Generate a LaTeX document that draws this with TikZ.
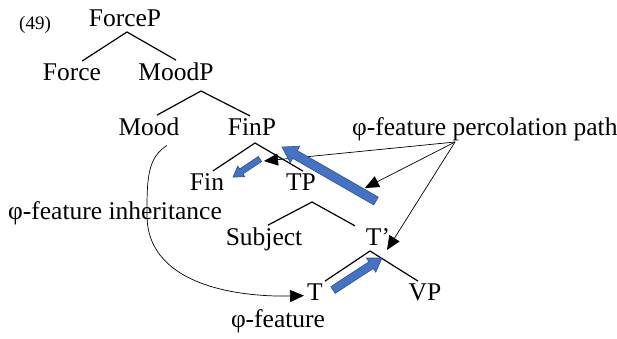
\documentclass[tikz,border=0pt]{standalone}
\usepackage{fontspec}
\setmainfont{Liberation Serif}
\usetikzlibrary{arrows.meta, calc}
\definecolor{featblue}{HTML}{4472C4}
\definecolor{featedge}{HTML}{2F528F}

% block arrow: tail, tip, half body width, half head width, head length
\newcommand{\featarrow}[5]{%
  \coordinate (fa-h) at ($(#2)!#5!(#1)$);
  \filldraw[fill=featblue, draw=featedge, line width=0.6pt]
    ($(#1)!#3!90:(#2)$) -- ($(fa-h)!#3!90:(#2)$) -- ($(fa-h)!#4!90:(#2)$) -- (#2)
    -- ($(fa-h)!#4!-90:(#2)$) -- ($(fa-h)!#3!-90:(#2)$) -- ($(#1)!#3!-90:(#2)$) -- cycle;
}

\begin{document}
\begin{tikzpicture}[x=1pt, y=-1pt,
        lbl/.style={anchor=base, inner sep=3pt, font=\fontsize{25.5}{30}\selectfont},
        branch/.style={line width=1.2pt},
        pointer/.style={line width=0.7pt, -{Triangle[length=14pt, width=12pt]}}]
      \useasboundingbox (0,0) rectangle (617,338);

      % tree
      \node[lbl, anchor=base west, font=\fontsize{19}{22}\selectfont] (exnum) at (16,29) {(49)};
      \node[lbl] (forcep) at (125,26) {ForceP};
      \node[lbl] (force) at (72,80) {Force};
      \node[lbl] (moodp) at (176,80) {MoodP};
      \node[lbl] (mood) at (149,135) {Mood};
      \node[lbl] (finp) at (252,135) {FinP};
      \node[lbl] (fin) at (207,190) {Fin};
      \node[lbl] (tp) at (301,190) {TP};
      \node[lbl] (subj) at (264,245) {Subject};
      \node[lbl] (tbar) at (378,245) {T’};
      \node[lbl] (t) at (315,300) {T};
      \node[lbl] (vp) at (425,300) {VP};

      \coordinate (forcep-a) at (127,32);
      \coordinate (moodp-a) at (201,91);
      \coordinate (finp-a) at (255,143);
      \coordinate (tp-a) at (312,202);
      \coordinate (tbar-a) at (370,251);

      \draw[branch] ($(force.north)+(10,1)$) -- (forcep-a) -- ($(moodp.north)+(0,1)$);
      \draw[branch] ($(mood.north)+(8,1)$) -- (moodp-a) -- ($(finp.north)+(-2,1)$);
      \draw[branch] ($(fin.north)+(6,1)$) -- (finp-a) -- ($(tp.north)+(2,1)$);
      \draw[branch] ($(subj.north)+(4,1)$) -- (tp-a) -- ($(tbar.north)+(-23,1)$);
      \draw[branch] ($(t.north)+(10,1)$) -- (tbar-a) -- ($(vp.north)+(-7,1)$);

      % labels
      \node[lbl, anchor=base west] (perc) at (349,135) {φ-feature percolation path};
      \node[lbl, anchor=base west] (inher) at (5,219) {φ-feature inheritance};
      \node[lbl] (phi) at (278,327) {φ-feature};

      % percolation pointers
      \coordinate (src) at (455,142);
      \coordinate (finp-tip) at (264,161);
      \coordinate (path-tip) at (365,188);
      \coordinate (tbar-tip) at (387,250);
      \draw[pointer] (src) -- (finp-tip);
      \draw[pointer] (src) -- (path-tip);
      \draw[pointer] (src) -- (tbar-tip);

      % inheritance
      \draw[pointer] ($(mood.south)+(18,7)$) .. controls (147,158) and (147,180) .. (147,215)
        .. controls (147,290) and (250,297) .. ($(t.west)+(0,4)$);

      % blue arrows
      \coordinate (tp-tail) at (376,201);
      \coordinate (finp-head) at (282,147);
      \coordinate (fin-tail) at (260,159);
      \coordinate (fin-head) at (233,177);
      \coordinate (t-tail) at (333,290);
      \coordinate (tbar-head) at (382,258);
      \featarrow{tp-tail}{finp-head}{4.5pt}{9.5pt}{15pt}
      \featarrow{fin-tail}{fin-head}{3pt}{6.5pt}{10pt}
      \featarrow{t-tail}{tbar-head}{4pt}{8.5pt}{13pt}
    \end{tikzpicture}
\end{document}
